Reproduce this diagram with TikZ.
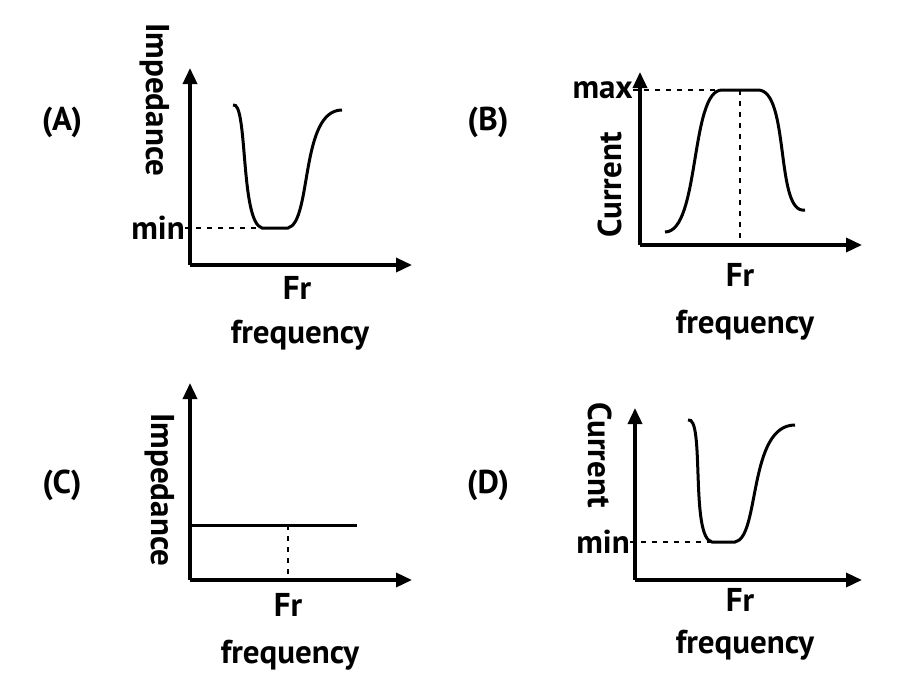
\documentclass[tikz,border=0pt]{standalone}
\usepackage{fontspec}
\setmainfont{PT Sans}
\usetikzlibrary{arrows.meta}
\begin{document}
\begin{tikzpicture}[x=1pt,y=-1pt,
  ax/.style={line width=3.5pt,-{Triangle[length=16pt,width=14pt]}},
  cv/.style={line width=3pt},
  ds/.style={line width=2.2pt,dash pattern=on 5pt off 6pt},
  lb/.style={font=\fontsize{33}{33}\selectfont\bfseries,inner sep=0pt}]
\useasboundingbox (0,0) rectangle (900,696);
% A
\coordinate (Ao) at (190,265);
\coordinate (Ay) at (190,68); \coordinate (Ax) at (412,265);
\draw[ax] (Ao) -- (Ay); \draw[ax] (Ao) -- (Ax);
\node[lb] (Al) at (62,122) {(A)};
\node[lb,rotate=-90] (Ai) at (155,100) {Impedance};
\node[lb,anchor=east] (Am) at (185,228) {min};
\coordinate (Ab) at (288,228);
\draw[ds] (Am.east) -- (Ab);
\draw[cv] (233,105) .. controls (248,100) and (240,222) .. (262,228) -- (Ab) .. controls (312,222) and (300,110) .. (342,110);
\node[lb] (Af) at (297,288) {Fr};
\node[lb] (Aq) at (300,335) {frequency};
% B
\coordinate (Bo) at (640,245);
\coordinate (By) at (640,72); \coordinate (Bx) at (862,245);
\draw[ax] (Bo) -- (By); \draw[ax] (Bo) -- (Bx);
\node[lb] (Bl) at (488,122) {(B)};
\node[lb,rotate=90] (Bc) at (610,185) {Current};
\node[lb,anchor=east] (Bm) at (633,90) {max};
\coordinate (Bt) at (740,90);
\draw[ds] (Bm.east) -- (Bt); \draw[ds] (Bt) -- (740,245);
\draw[cv] (665,232) .. controls (700,232) and (690,90) .. (722,90) -- (758,90) .. controls (790,90) and (775,215) .. (805,210);
\node[lb] (Bf) at (740,275) {Fr};
\node[lb] (Bq) at (745,325) {frequency};
% C
\coordinate (Co) at (190,580);
\coordinate (Cy) at (190,383); \coordinate (Cx) at (412,580);
\draw[ax] (Co) -- (Cy); \draw[ax] (Co) -- (Cx);
\node[lb] (Cl) at (62,485) {(C)};
\node[lb,rotate=-90] (Ci) at (160,490) {Impedance};
\draw[cv] (190,525) -- (357,525);
\draw[ds] (288,525) -- (288,580);
\node[lb] (Cf) at (288,605) {Fr};
\node[lb] (Cq) at (290,655) {frequency};
% D
\coordinate (Do) at (635,580);
\coordinate (Dy) at (635,408); \coordinate (Dx) at (862,580);
\draw[ax] (Do) -- (Dy); \draw[ax] (Do) -- (Dx);
\node[lb] (Dl) at (488,485) {(D)};
\node[lb,rotate=-90] (Dc) at (600,455) {Current};
\node[lb,anchor=east] (Dm) at (630,542) {min};
\coordinate (Db) at (735,542);
\draw[ds] (Dm.east) -- (Db);
\draw[cv] (688,420) .. controls (705,415) and (690,538) .. (712,542) -- (Db) .. controls (760,538) and (748,425) .. (795,425);
\node[lb] (Df) at (740,600) {Fr};
\node[lb] (Dq) at (745,645) {frequency};
\end{tikzpicture}
\end{document}
